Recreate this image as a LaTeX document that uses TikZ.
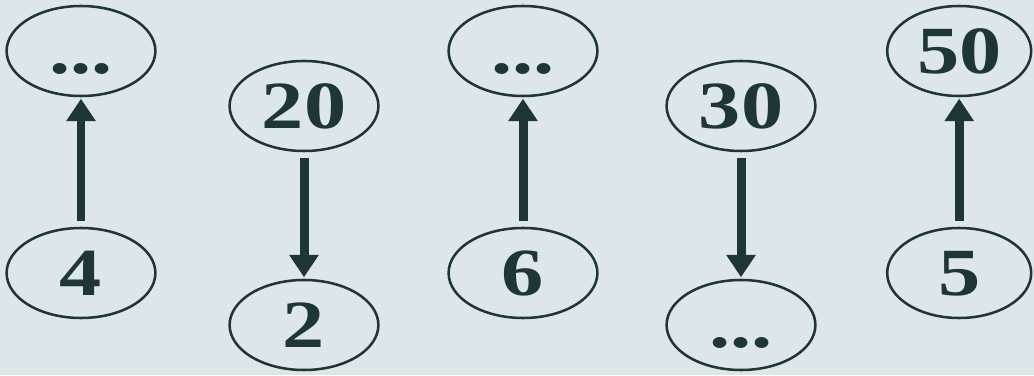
\documentclass[tikz,border=0pt]{standalone}
\usepackage{fontspec}
\setmainfont{Liberation Serif}
\usetikzlibrary{shapes.geometric,arrows.meta}
\definecolor{paper}{RGB}{221,230,235}
\definecolor{ink}{RGB}{30,54,54}
\newcommand{\wide}[1]{\scalebox{1.25}[1]{#1}}
\tikzset{
  oval/.style={ellipse, draw=ink, line width=1.8pt, text=ink, inner sep=0pt,
    minimum width=3.72cm, minimum height=2.25cm, text height=32pt, text depth=0pt,
    font=\fontsize{48}{50}\selectfont\bfseries},
  link/.style={draw=ink, line width=6.4pt, -{Triangle[width=20pt,length=16pt]},
    shorten <=4pt, shorten >=1pt}
}
\begin{document}
\begin{tikzpicture}
		% fond de la page
		\fill[paper] (0,0) rectangle (25.85,9.375);
		\useasboundingbox (0,0) rectangle (25.85,9.375);
		% premier couple
		\node[oval] (top1) at (2.025,8.1) {\wide{...}};
		\node[oval] (bot1) at (2.025,2.55) {\wide{4}};
		% deuxieme couple
		\node[oval] (top2) at (7.6,6.725) {\wide{20}};
		\node[oval] (bot2) at (7.6,1.25) {\wide{2}};
		% troisieme couple
		\node[oval] (top3) at (13.075,8.1) {\wide{...}};
		\node[oval] (bot3) at (13.075,2.55) {\wide{6}};
		% quatrieme couple
		\node[oval] (top4) at (18.525,6.725) {\wide{30}};
		\node[oval] (bot4) at (18.525,1.25) {\wide{...}};
		% cinquieme couple
		\node[oval, minimum width=3.6cm] (top5) at (23.98,8.1) {\wide{50}};
		\node[oval, minimum width=3.6cm] (bot5) at (23.98,2.55) {\wide{5}};
		% fleches
		\draw[link] (bot1) -- (top1);
		\draw[link] (top2) -- (bot2);
		\draw[link] (bot3) -- (top3);
		\draw[link] (top4) -- (bot4);
		\draw[link] (bot5) -- (top5);
\end{tikzpicture}
\end{document}
